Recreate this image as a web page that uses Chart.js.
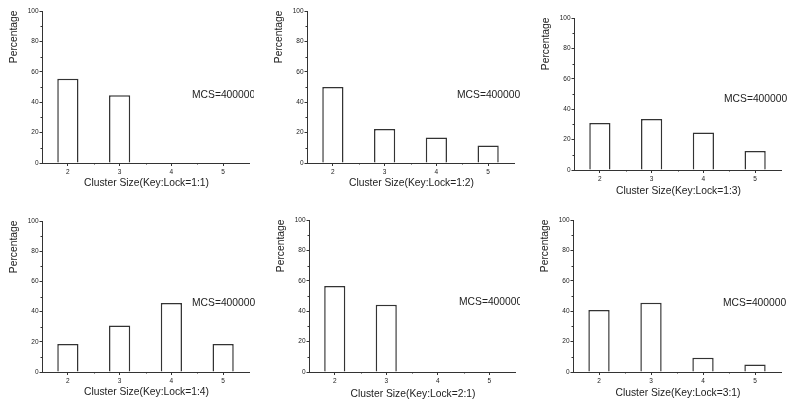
<!DOCTYPE html>
<html>
<head>
<meta charset="utf-8">
<script src="https://cdn.jsdelivr.net/npm/chart.js@4/dist/chart.umd.min.js"></script>
<style>
html,body{margin:0;padding:0;background:#fff;}
#wrap{position:relative;width:800px;height:408px;overflow:hidden;background:#fff;}
.pn{position:absolute;}
</style>
</head>
<body>
<div id="wrap"></div>
<script>
// ---- data ----
const categories = ['2', '3', '4', '5'];
const pct11 = [55.5, 44.5, 0, 0];
const pct12 = [50.0, 22.3, 16.8, 11.5];
const pct13 = [30.9, 33.5, 24.7, 12.5];
const pct14 = [18.5, 30.8, 45.7, 18.5];
const pct21 = [56.6, 44.3, 0, 0];
const pct31 = [40.8, 45.6, 9.4, 5.0];
const yTicks = [0, 20, 40, 60, 80, 100];
const ratioLabels = ['1:1', '1:2', '1:3', '1:4', '2:1', '3:1'];
const mcsLabel = 'MCS=400000';
const yTitle = 'Percentage';

// ---- layout of the six panels (page pixels) ----
const panels = [
  {data: pct11, ratio: ratioLabels[0], L: 42,  T: 11,  R: 249, B: 163, clipR: 254, mcsY: 44.8, xtDy: 20},
  {data: pct12, ratio: ratioLabels[1], L: 307, T: 11,  R: 514, B: 163, clipR: 526, mcsY: 44.8, xtDy: 20},
  {data: pct13, ratio: ratioLabels[2], L: 574, T: 18,  R: 781, B: 170, clipR: 798, mcsY: 46.3, xtDy: 21},
  {data: pct14, ratio: ratioLabels[3], L: 42,  T: 221, R: 249, B: 372, clipR: 262, mcsY: 45.5, xtDy: 20.5},
  {data: pct21, ratio: ratioLabels[4], L: 309, T: 220, R: 515, B: 372, clipR: 520, mcsY: 45.7, xtDy: 22.5},
  {data: pct31, ratio: ratioLabels[5], L: 573, T: 220, R: 781, B: 372, clipR: 798, mcsY: 45.4, xtDy: 21}
];

const FONT = "'Liberation Sans', Arial, sans-serif";
const INK = '#222';
const AXIS = '#333';
const LEFTW = 42, TOPP = 12, BOTH = 34;

const decor = {
  id: 'decor',
  afterDraw(chart, args, opts) {
    const ctx = chart.ctx;
    const a = chart.chartArea;
    const xs = chart.scales.x, ys = chart.scales.y;
    ctx.save();
    // minor ticks
    ctx.strokeStyle = AXIS;
    ctx.lineWidth = 1;
    ctx.beginPath();
    for (let v = 10; v < 100; v += 20) {
      const py = Math.round(ys.getPixelForValue(v)) + 0.5;
      ctx.moveTo(a.left - 1.5, py); ctx.lineTo(a.left, py);
    }
    for (let i = 0; i < categories.length - 1; i++) {
      const px = Math.round((xs.getPixelForTick(i) + xs.getPixelForTick(i + 1)) / 2) + 0.5;
      ctx.moveTo(px, a.bottom); ctx.lineTo(px, a.bottom + 1.5);
    }
    ctx.stroke();
    // titles
    ctx.fillStyle = INK;
    ctx.font = '10.3px ' + FONT;
    ctx.textBaseline = 'middle';
    ctx.textAlign = 'center';
    ctx.fillText('Cluster Size(Key:Lock=' + opts.ratio + ')', (a.left + a.right) / 2 + 1, a.bottom + opts.xtDy);
    ctx.textAlign = 'left';
    ctx.fillText(mcsLabel, a.left + 150, ys.getPixelForValue(opts.mcsY));
    ctx.translate(a.left - 28, a.top - 0.5);
    ctx.rotate(-Math.PI / 2);
    ctx.textAlign = 'right';
    ctx.fillText(yTitle, 0, 0);
    ctx.restore();
  }
};

const wrap = document.getElementById('wrap');
panels.forEach((p) => {
  const left = p.L - LEFTW;
  const top = p.T - TOPP;
  const w = p.clipR - left;
  const h = (p.B - p.T) + TOPP + BOTH;
  const div = document.createElement('div');
  div.className = 'pn';
  div.style.left = left + 'px';
  div.style.top = top + 'px';
  div.style.width = w + 'px';
  div.style.height = h + 'px';
  const cv = document.createElement('canvas');
  cv.width = w; cv.height = h;
  cv.style.width = w + 'px'; cv.style.height = h + 'px';
  div.appendChild(cv);
  wrap.appendChild(div);

  new Chart(cv, {
    type: 'bar',
    data: {
      labels: categories,
      datasets: [{
        data: p.data,
        backgroundColor: '#fff',
        borderColor: '#333',
        borderWidth: 1.5,
        borderSkipped: 'start',
        categoryPercentage: 1,
        barPercentage: 0.41
      }]
    },
    options: {
      responsive: false,
      animation: false,
      devicePixelRatio: 1,
      layout: {padding: {left: 0, top: TOPP, right: p.clipR - p.R, bottom: 0}},
      plugins: {
        legend: {display: false},
        tooltip: {enabled: false},
        decor: {ratio: p.ratio, mcsY: p.mcsY, xtDy: p.xtDy}
      },
      scales: {
        x: {
          offset: true,
          grid: {display: true, drawOnChartArea: false, offset: false, tickLength: 3, color: AXIS, lineWidth: 1},
          border: {display: true, color: AXIS, width: 1},
          ticks: {color: INK, font: {family: FONT, size: 6.5}, padding: 2, maxRotation: 0, autoSkip: false},
          afterFit(s) { s.height = BOTH; }
        },
        y: {
          min: 0, max: 100,
          afterBuildTicks(s) { s.ticks = yTicks.map(v => ({value: v})); },
          grid: {display: true, drawOnChartArea: false, tickLength: 2.5, color: AXIS, lineWidth: 1},
          border: {display: true, color: AXIS, width: 1},
          ticks: {color: INK, font: {family: FONT, size: 6.5}, padding: 1},
          afterFit(s) { s.width = LEFTW; }
        }
      }
    },
    plugins: [decor]
  });
});
</script>
</body>
</html>
